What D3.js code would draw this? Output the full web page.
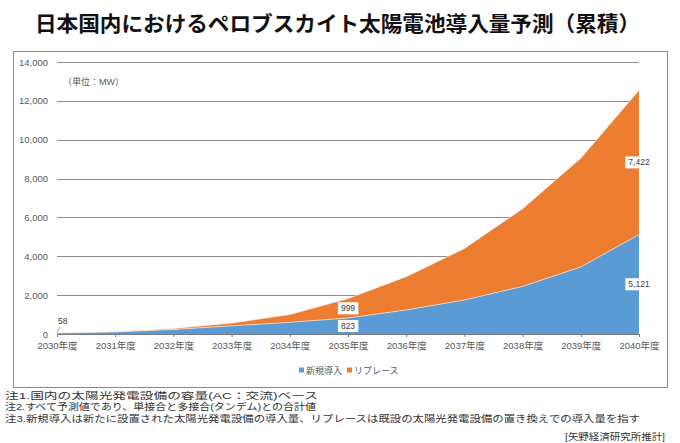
<!DOCTYPE html>
<html><head><meta charset="utf-8">
<script src="https://cdn.jsdelivr.net/npm/d3@7"></script>
<style>
html,body{margin:0;padding:0;background:#fff;}
svg{display:block;}
</style></head>
<body>
<svg id="chart" width="680" height="443"></svg>
<script>
// ---- data ----
const years = ["2030年度","2031年度","2032年度","2033年度","2034年度","2035年度","2036年度","2037年度","2038年度","2039年度","2040年度"];
const newInstall = [58, 110, 230, 420, 600, 823, 1235, 1750, 2450, 3450, 5121];
const replace    = [0, 10, 50, 140, 400, 999, 1715, 2650, 4000, 5600, 7422];
const yTicks = [0, 2000, 4000, 6000, 8000, 10000, 12000, 14000];
const seriesNames = ["新規導入", "リプレース"];
const labeledYears = ["2035年度", "2040年度"];
const title = "日本国内におけるペロブスカイト太陽電池導入量予測（累積）";
const unitLabel = "（単位：MW）";
const notes = [
  "注1.国内の太陽光発電設備の容量(AC：交流)ベース",
  "注2.すべて予測値であり、単接合と多接合(タンデム)との合計値",
  "注3.新規導入は新たに設置された太陽光発電設備の導入量、リプレースは既設の太陽光発電設備の置き換えでの導入量を指す"
];
const source = "[矢野経済研究所推計]";

const colors = ["#5b9bd5", "#ed7d31"];
const FONT = "'Liberation Sans', 'Noto Sans CJK JP', sans-serif";
const JFONT = "'Noto Sans CJK JP', sans-serif";

const svg = d3.select("#chart");

// title
svg.append("text").attr("x", 35).attr("y", 31)
  .attr("font-family", JFONT).attr("font-weight", "bold").attr("font-size", 21)
  .attr("fill", "#111").attr("textLength", 605).attr("lengthAdjust", "spacingAndGlyphs")
  .text(title);

// chart frame
svg.append("rect").attr("x", 13.5).attr("y", 51.5).attr("width", 654).attr("height", 336)
  .attr("fill", "#fff").attr("stroke", "#8a8a8a").attr("stroke-width", 1);

const x = d3.scalePoint().domain(years).range([57, 639]);
const y = d3.scaleLinear().domain([0, 14000]).range([334, 62]);

// gridlines + y labels
const yAxis = d3.axisLeft(y).tickValues(yTicks).tickSize(-(639 - 57))
  .tickFormat(d3.format(","));
const gy = svg.append("g").attr("transform", "translate(57,0)").call(yAxis);
gy.select(".domain").remove();
gy.selectAll(".tick line").attr("stroke", "#8c8c8c").attr("stroke-width", 1)
  .attr("shape-rendering", "crispEdges");
gy.selectAll(".tick text").attr("x", -9).attr("font-family", FONT).attr("font-size", 9.5)
  .attr("fill", "#595959");

// unit label
svg.append("text").attr("x", 63).attr("y", 85).attr("font-family", FONT)
  .attr("font-size", 9).attr("fill", "#595959").text(unitLabel);

// stacked areas
const table = years.map((yr, i) => ({year: yr, [seriesNames[0]]: newInstall[i], [seriesNames[1]]: replace[i]}));
const stack = d3.stack().keys(seriesNames)(table);
const area = d3.area().x(d => x(d.data.year)).y0(d => y(d[0])).y1(d => y(d[1]));
svg.append("g").selectAll("path").data(stack).join("path")
  .attr("d", area).attr("fill", (d, i) => colors[i]);
const topLine = d3.line().x(d => x(d.data.year)).y(d => y(d[1]));
svg.append("g").selectAll("path").data(stack).join("path")
  .attr("d", topLine).attr("fill", "none").attr("stroke", "#fff").attr("stroke-opacity", 0.55)
  .attr("stroke-width", 1);

// x axis
const xAxis = d3.axisBottom(x).tickSize(3).tickSizeOuter(0);
const gx = svg.append("g").attr("transform", "translate(0,334)").call(xAxis);
gx.select(".domain").attr("stroke", "#7a7a7a");
gx.selectAll(".tick line").attr("stroke", "#7a7a7a");
gx.selectAll(".tick text").attr("y", 8).attr("font-family", FONT).attr("font-size", 9.5)
  .attr("fill", "#595959");

// data labels
function boxLabel(cx, cy, txt) {
  const g = svg.append("g");
  const t = g.append("text").attr("x", cx).attr("y", cy + 3).attr("text-anchor", "middle")
    .attr("font-family", FONT).attr("font-size", 8.5).attr("fill", "#404040").text(txt);
  const bb = t.node().getBBox();
  g.insert("rect", "text").attr("x", bb.x - 3).attr("y", cy - 6).attr("width", bb.width + 6)
    .attr("height", 12).attr("fill", "#fff");
}
labeledYears.forEach(yr => {
  const i = years.indexOf(yr);
  boxLabel(x(yr), y(newInstall[i] / 2), d3.format(",")(newInstall[i]));
  boxLabel(x(yr), y(newInstall[i] + replace[i] / 2), d3.format(",")(replace[i]));
});
// first-year label (outside, with leader)
svg.append("text").attr("x", x(years[0]) + 1).attr("y", y(newInstall[0]) - 9)
  .attr("font-family", FONT).attr("font-size", 8.5).attr("fill", "#404040")
  .text(d3.format(",")(newInstall[0]));
svg.append("line").attr("x1", x(years[0]) + 3).attr("y1", y(newInstall[0]) - 6)
  .attr("x2", x(years[0])).attr("y2", y(newInstall[0]))
  .attr("stroke", "#8c8c8c").attr("stroke-width", 0.8);

// legend
const lg = svg.append("g");
const legX = [299, 347];
seriesNames.forEach((n, i) => {
  lg.append("rect").attr("x", legX[i]).attr("y", 367.5).attr("width", 5).attr("height", 5)
    .attr("fill", colors[i]);
  lg.append("text").attr("x", legX[i] + 7).attr("y", 373.5).attr("font-family", JFONT)
    .attr("font-size", 9).attr("fill", "#595959").text(n);
});

// notes
const noteLens = [313, 311, 635];
notes.forEach((n, i) => {
  svg.append("text").attr("x", 5).attr("y", 398.5 + i * 11.7).attr("font-family", FONT)
    .attr("font-size", 9.5).attr("fill", "#333").attr("textLength", noteLens[i])
    .attr("lengthAdjust", "spacingAndGlyphs").text(n);
});
svg.append("text").attr("x", 565).attr("y", 439.5)
  .attr("font-family", FONT).attr("font-size", 9.5).attr("fill", "#333")
  .attr("textLength", 100).attr("lengthAdjust", "spacingAndGlyphs")
  .text(source);
</script>
</body></html>
